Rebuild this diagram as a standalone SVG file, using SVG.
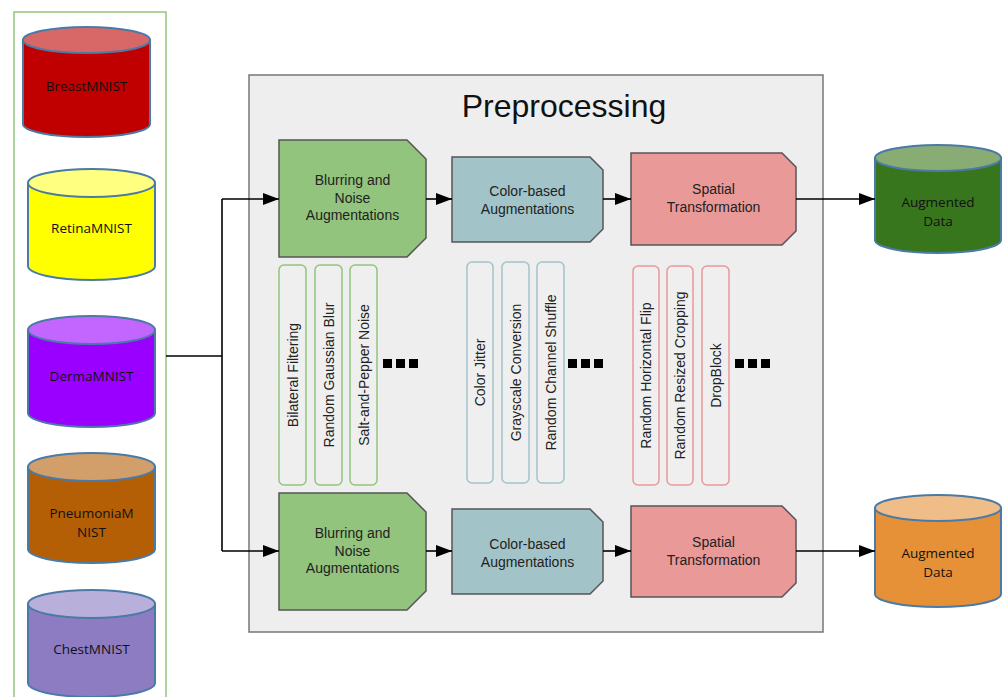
<svg xmlns="http://www.w3.org/2000/svg" width="1003" height="697" viewBox="0 0 1003 697">
<style>
.cylb{stroke:#4a7aa6;stroke-width:2}
.cyl{font-family:"Open Sans","Liberation Sans",sans-serif;font-size:13.5px;fill:#111;text-anchor:middle}
.nd{stroke:#555;stroke-width:1.5}
.nt{font-family:"Liberation Sans",Arial,sans-serif;font-size:14px;fill:#222;text-anchor:middle}
.vt{font-family:"Liberation Sans",Arial,sans-serif;font-size:14px;fill:#222;text-anchor:middle}
.sg{fill:#efefef;stroke:#93c47d;stroke-width:1.5}
.sb{fill:#efefef;stroke:#a2c4c9;stroke-width:1.5}
.sr{fill:#efefef;stroke:#ea9999;stroke-width:1.5}
.ln{fill:none;stroke:#000;stroke-width:1.6}
</style>
<defs>
<marker id="ah" markerUnits="userSpaceOnUse" markerWidth="17" markerHeight="13" refX="16" refY="6" orient="auto">
<path d="M0,0 L16,6 L0,12 z" fill="#000"/>
</marker>
</defs>
<rect width="1003" height="697" fill="#fff"/>
<g id="datasets">
<rect x="14" y="12" width="152" height="700" fill="none" stroke="#93c47d" stroke-width="1.5"/>
</g>
<g id="breast">
<path class="cylb" d="M23,40 L23,124 A63.5,13 0 0 0 150,124 L150,40 Z" fill="#c00000"/>
<ellipse class="cylb" cx="86.5" cy="40" rx="63.5" ry="13" fill="#d86868"/>
<text class="cyl" x="86.5" y="91">BreastMNIST</text>
</g>
<g id="retina">
<path class="cylb" d="M28,183 L28,266 A63.5,14 0 0 0 155,266 L155,183 Z" fill="#ffff00"/>
<ellipse class="cylb" cx="91.5" cy="183" rx="63.5" ry="14" fill="#ffff80"/>
<text class="cyl" x="91.5" y="233">RetinaMNIST</text>
</g>
<g id="derma">
<path class="cylb" d="M28,330 L28,413 A63.5,14 0 0 0 155,413 L155,330 Z" fill="#9900ff"/>
<ellipse class="cylb" cx="91.5" cy="330" rx="63.5" ry="14" fill="#c266ff"/>
<text class="cyl" x="91.5" y="381">DermaMNIST</text>
</g>
<g id="pneumonia">
<path class="cylb" d="M28,467 L28,549 A63.5,14 0 0 0 155,549 L155,467 Z" fill="#b45f06"/>
<ellipse class="cylb" cx="91.5" cy="467" rx="63.5" ry="14" fill="#d29f6a"/>
<text class="cyl" x="91.5" y="518">PneumoniaM</text>
<text class="cyl" x="91.5" y="537">NIST</text>
</g>
<g id="chest">
<path class="cylb" d="M28,604 L28,683 A63.5,14 0 0 0 155,683 L155,604 Z" fill="#8e7cc3"/>
<ellipse class="cylb" cx="91.5" cy="604" rx="63.5" ry="14" fill="#b9afdb"/>
<text class="cyl" x="91.5" y="654">ChestMNIST</text>
</g>
<g id="preprocessing">
<rect x="249" y="75" width="574" height="557" fill="#eeeeee" stroke="#777" stroke-width="1.5"/>
<text x="564" y="117" font-family="Liberation Sans,Arial,sans-serif" font-size="32" fill="#111" text-anchor="middle">Preprocessing</text>
</g>
<g id="blur1">
<path class="nd" d="M279,140 L407,140 L426,159 L426,238 L407,257 L279,257 Z" fill="#93c47d"/>
<text class="nt" x="352.5" y="185">Blurring and</text>
<text class="nt" x="352.5" y="203">Noise</text>
<text class="nt" x="352.5" y="220">Augmentations</text>
</g>
<g id="color1">
<path class="nd" d="M452,157 L590,157 L603,170 L603,229 L590,242 L452,242 Z" fill="#a2c4c9"/>
<text class="nt" x="527.5" y="196">Color-based</text>
<text class="nt" x="527.5" y="214">Augmentations</text>
</g>
<g id="spatial1">
<path class="nd" d="M631,153 L782,153 L796,167 L796,231 L782,245 L631,245 Z" fill="#ea9999"/>
<text class="nt" x="713.5" y="194">Spatial</text>
<text class="nt" x="713.5" y="212">Transformation</text>
</g>
<g id="blur2">
<path class="nd" d="M279,493 L407,493 L426,512 L426,591 L407,610 L279,610 Z" fill="#93c47d"/>
<text class="nt" x="352.5" y="538">Blurring and</text>
<text class="nt" x="352.5" y="556">Noise</text>
<text class="nt" x="352.5" y="573">Augmentations</text>
</g>
<g id="color2">
<path class="nd" d="M452,509 L590,509 L603,522 L603,581 L590,594 L452,594 Z" fill="#a2c4c9"/>
<text class="nt" x="527.5" y="549">Color-based</text>
<text class="nt" x="527.5" y="567">Augmentations</text>
</g>
<g id="spatial2">
<path class="nd" d="M631,506 L782,506 L796,520 L796,583 L782,597 L631,597 Z" fill="#ea9999"/>
<text class="nt" x="713.5" y="547">Spatial</text>
<text class="nt" x="713.5" y="565">Transformation</text>
</g>
<g id="blur-ops">
<rect class="sg" x="279" y="265" width="27" height="220" rx="5"/>
<rect class="sg" x="315" y="265" width="27" height="220" rx="5"/>
<rect class="sg" x="350" y="265" width="27" height="220" rx="5"/>
<text class="vt" transform="translate(297.5,375) rotate(-90)">Bilateral Filtering</text>
<text class="vt" transform="translate(333.5,375) rotate(-90)">Random Gaussian Blur</text>
<text class="vt" transform="translate(368.5,375) rotate(-90)">Salt-and-Pepper Noise</text>
<rect x="383" y="359" width="9" height="9"/><rect x="396" y="359" width="9" height="9"/><rect x="409" y="359" width="9" height="9"/>
</g>
<g id="color-ops">
<rect class="sb" x="467" y="262" width="26" height="221" rx="5"/>
<rect class="sb" x="502" y="262" width="27" height="221" rx="5"/>
<rect class="sb" x="537" y="262" width="27" height="221" rx="5"/>
<text class="vt" transform="translate(485,372.5) rotate(-90)">Color Jitter</text>
<text class="vt" transform="translate(520.5,372.5) rotate(-90)">Grayscale Conversion</text>
<text class="vt" transform="translate(555.5,372.5) rotate(-90)">Random Channel Shuffle</text>
<rect x="568" y="359" width="9" height="9"/><rect x="581" y="359" width="9" height="9"/><rect x="594" y="359" width="9" height="9"/>
</g>
<g id="spatial-ops">
<rect class="sr" x="633" y="266" width="26" height="219" rx="5"/>
<rect class="sr" x="667" y="266" width="26" height="219" rx="5"/>
<rect class="sr" x="702" y="266" width="27" height="219" rx="5"/>
<text class="vt" transform="translate(651,375.5) rotate(-90)">Random Horizontal Flip</text>
<text class="vt" transform="translate(685,375.5) rotate(-90)">Random Resized Cropping</text>
<text class="vt" transform="translate(720.5,375.5) rotate(-90)">DropBlock</text>
<rect x="735" y="359" width="9" height="9"/><rect x="748" y="359" width="9" height="9"/><rect x="761" y="359" width="9" height="9"/>
</g>
<g id="aug1">
<path class="cylb" d="M875,158 L875,240 A63,13 0 0 0 1001,240 L1001,158 Z" fill="#38761d"/>
<ellipse class="cylb" cx="938" cy="158" rx="63" ry="13" fill="#89ab74"/>
<text class="cyl" x="938" y="207">Augmented</text>
<text class="cyl" x="938" y="226">Data</text>
</g>
<g id="aug2">
<path class="cylb" d="M875,508 L875,594 A63,13 0 0 0 1001,594 L1001,508 Z" fill="#e69138"/>
<ellipse class="cylb" cx="938" cy="508" rx="63" ry="13" fill="#f0bd89"/>
<text class="cyl" x="938" y="558">Augmented</text>
<text class="cyl" x="938" y="577">Data</text>
</g>
<g id="connectors">
<path class="ln" d="M166,356 L222,356"/>
<path class="ln" d="M222,199 L222,551"/>
<path class="ln" d="M222,199 L279,199" marker-end="url(#ah)"/>
<path class="ln" d="M222,551 L279,551" marker-end="url(#ah)"/>
<path class="ln" d="M426,199 L452,199" marker-end="url(#ah)"/>
<path class="ln" d="M603,199 L631,199" marker-end="url(#ah)"/>
<path class="ln" d="M796,199 L875,199" marker-end="url(#ah)"/>
<path class="ln" d="M426,551 L452,551" marker-end="url(#ah)"/>
<path class="ln" d="M603,551 L631,551" marker-end="url(#ah)"/>
<path class="ln" d="M796,551 L875,551" marker-end="url(#ah)"/>
</g>
</svg>
